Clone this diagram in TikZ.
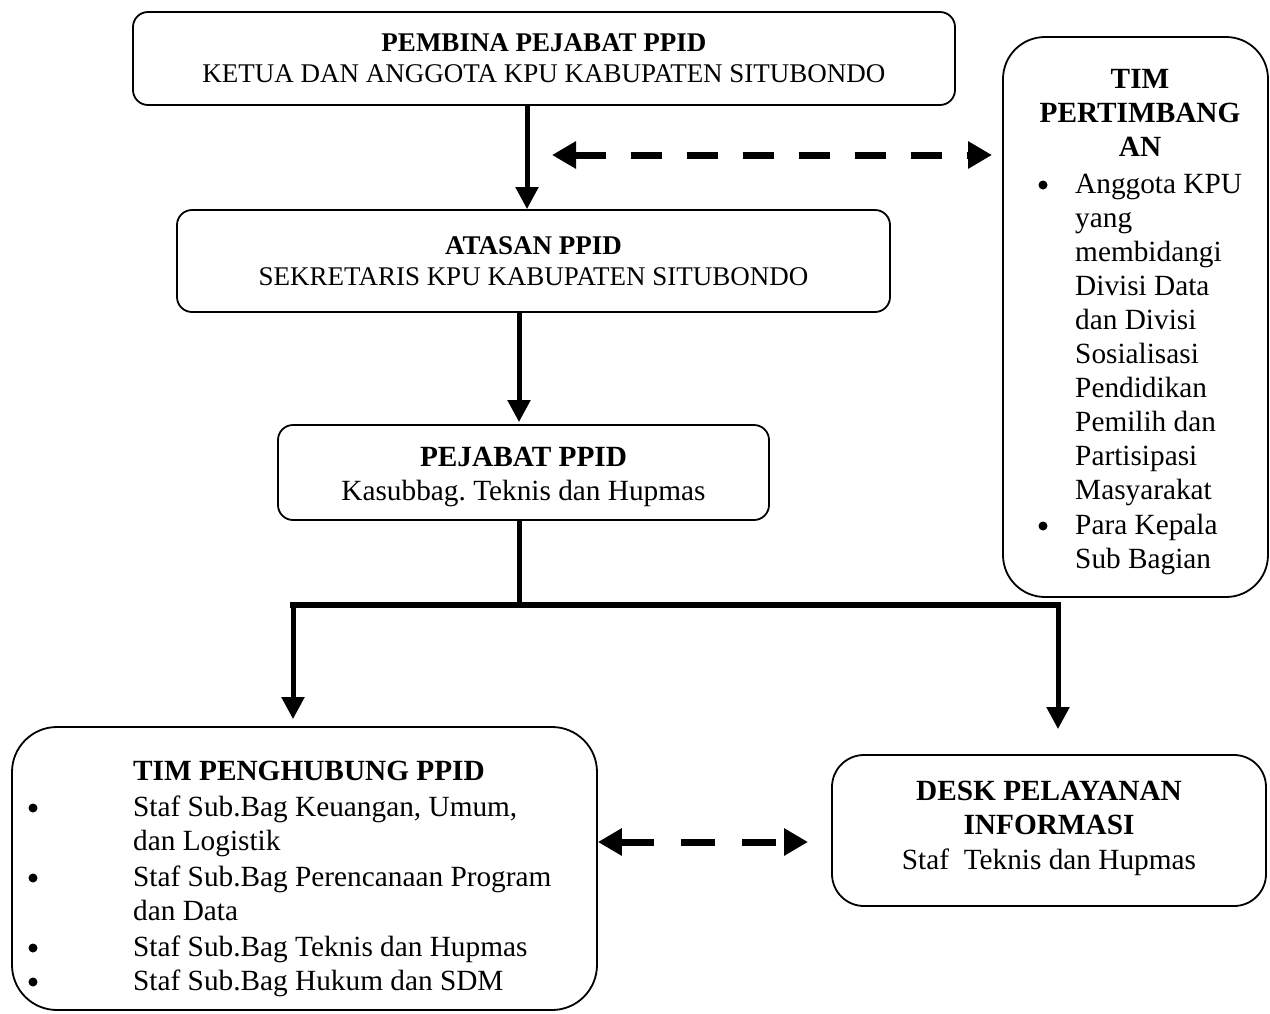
\documentclass[tikz,border=0pt]{standalone}
\usepackage{fontspec}
\setmainfont{Liberation Serif}
\usetikzlibrary{arrows.meta}
\frenchspacing
\begin{document}
\begin{tikzpicture}[x=1pt,y=-1pt,
  box/.style={draw, line width=1.8pt, rounded corners=#1, inner sep=0pt},
  box/.default=15pt,
  txt/.style={font=\fontsize{27}{31}\selectfont, align=center},
  txtb/.style={font=\fontsize{29.3}{34.5}\selectfont, align=center},
  ln/.style={font=\fontsize{29.3}{34}\selectfont, anchor=base west, inner sep=0pt},
  bul/.style={circle, fill, inner sep=0pt, minimum size=9pt},
  conn/.style={line width=5pt},
  arr/.style={line width=5pt, -{Triangle[width=22pt,length=22pt]}},
  darr/.style={line width=7pt, dash pattern=on 31pt off 25pt, {Triangle[width=26pt,length=24pt]}-{Triangle[width=26pt,length=24pt]}}
]
\path[use as bounding box] (0,0) rectangle (1270,1013);

% boxes
\node[box=15pt, minimum width=822pt, minimum height=93pt, txt] (pembina) at (544,58.5)
  {\textbf{PEMBINA PEJABAT PPID}\\KETUA DAN ANGGOTA KPU KABUPATEN SITUBONDO};
\node[box=15pt, minimum width=713pt, minimum height=102pt, txt] (atasan) at (533.5,261)
  {\textbf{ATASAN PPID}\\SEKRETARIS KPU KABUPATEN SITUBONDO};
\node[box=15pt, minimum width=491pt, minimum height=95pt] (pejabat) at (523.5,472.5) {};
\node[txtb] (pejabattxt) at (523.5,477) {\textbf{PEJABAT PPID}\\Kasubbag. Teknis dan Hupmas};
\node[box=32pt, minimum width=434pt, minimum height=151pt] (desk) at (1049,830.5) {};
\node[txtb] (desktxt) at (1049,828) {\textbf{DESK PELAYANAN}\\\textbf{INFORMASI}\\Staf\ \ Teknis dan Hupmas};
\node[box=42pt, minimum width=265pt, minimum height=560pt] (pertimbangan) at (1135.5,317) {};
\node[box=45pt, minimum width=585pt, minimum height=283pt] (penghubung) at (304.5,868.5) {};

% right box content
\node[txtb, font={\fontsize{29.3}{34.2}\selectfont\bfseries}] (ptitle) at (1140,113) {TIM\\PERTIMBANG\\AN};
\foreach \t [count=\i from 0] in {Anggota KPU,yang,membidangi,Divisi Data,dan Divisi,Sosialisasi,Pendidikan,Pemilih dan,Partisipasi,Masyarakat,Para Kepala,Sub Bagian}
  \node[ln] (r\i) at (1075,{193+34.1*\i}) {\t};
\node[bul] (rb1) at (1043,185) {};
\node[bul] (rb2) at (1043,{185+34.1*10}) {};

% left box content
\node[ln, font={\fontsize{29.3}{34}\selectfont\bfseries}] (ltitle) at (133,780) {TIM PENGHUBUNG PPID};
\node[ln] (l1) at (133,816) {Staf Sub.Bag Keuangan, Umum,};
\node[ln] (l2) at (133,850) {dan Logistik};
\node[ln] (l3) at (133,886) {Staf Sub.Bag Perencanaan Program};
\node[ln] (l4) at (133,920) {dan Data};
\node[ln] (l5) at (133,956) {Staf Sub.Bag Teknis dan Hupmas};
\node[ln] (l6) at (133,990) {Staf Sub.Bag Hukum dan SDM};
\foreach \y [count=\i] in {808,878,948,982}
  \node[bul] (lb\i) at (33,\y) {};

% connectors
\draw[arr] ([xshift=-17pt]pembina.south) -- ([xshift=-17pt]pembina.south |- atasan.north);
\draw[arr, shorten >=2pt] ([xshift=-14.5pt]atasan.south) -- ([xshift=-14.5pt]atasan.south |- pejabat.north);

\coordinate (bl) at (293,605);
\coordinate (br) at (1058,605);
\draw[conn] ([xshift=-4.5pt]pejabat.south) -- ([xshift=-4.5pt]pejabat.south |- bl);
\draw[line width=6.5pt, line cap=rect] (bl) -- (br);
\draw[arr, shorten >=7pt] (bl) -- (bl |- penghubung.north);
\draw[arr, shorten >=25pt] (br) -- (br |- desk.north);

\coordinate (dl) at (552,155);
\coordinate (dr) at (992,155);
\draw[darr] (dl) -- (dr);
\coordinate (db) at (808,842);
\draw[darr, dash pattern=on 34pt off 27pt] (penghubung.east |- db) -- (db);
\end{tikzpicture}
\end{document}
